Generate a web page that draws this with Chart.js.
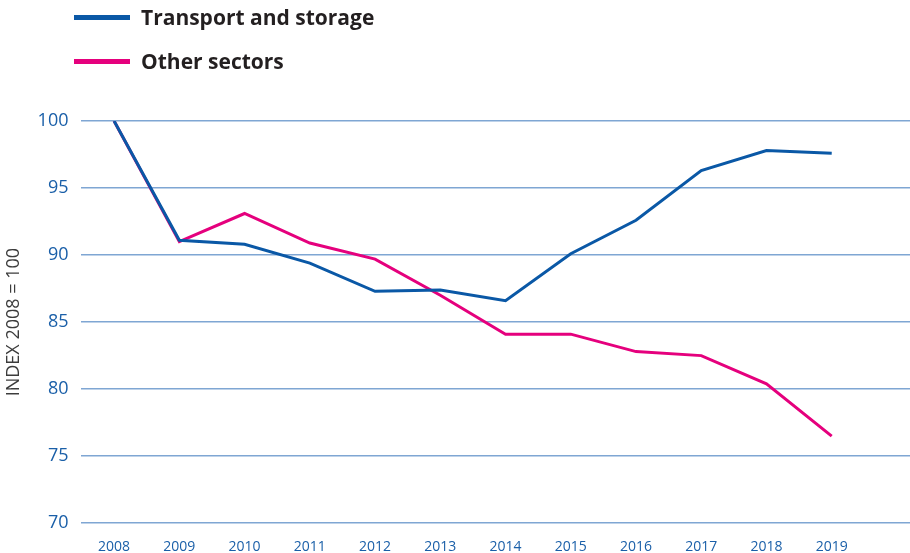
<!DOCTYPE html>
<html>
<head>
<meta charset="utf-8">
<script src="https://cdn.jsdelivr.net/npm/chart.js@4/dist/chart.umd.min.js"></script>
<style>
    html, body { margin: 0; padding: 0; background: #fff; }
    #wrap { position: relative; width: 910px; height: 553px; }
    #legend { position: absolute; left: 74px; top: 0; font-family: "Open Sans", sans-serif; font-weight: 700; font-size: 21px; color: #231f20; }
    .item { position: absolute; left: 0; white-space: nowrap; display: flex; align-items: center; }
    .swatch { display: inline-block; width: 56px; height: 5px; margin-right: 11px; }
</style>
</head>
<body>
<div id="wrap">
    <canvas id="chart" width="910" height="553"></canvas>
    <div id="legend"></div>
</div>
<script>
const years = [2008, 2009, 2010, 2011, 2012, 2013, 2014, 2015, 2016, 2017, 2018, 2019];
const transport = [100, 91.1, 90.8, 89.4, 87.3, 87.4, 86.6, 90.1, 92.6, 96.3, 97.8, 97.6];
const otherSectors = [100, 91.0, 93.1, 90.9, 89.7, 87.0, 84.1, 84.1, 82.8, 82.5, 80.4, 76.5];
const yTicks = [70, 75, 80, 85, 90, 95, 100];

const seriesNames = ['Transport and storage', 'Other sectors'];
const seriesColors = ['#0a58a6', '#e5007d'];

const legend = document.getElementById('legend');
seriesNames.forEach((name, i) => {
    const item = document.createElement('div');
    item.className = 'item';
    item.style.top = (3 + i * 44) + 'px';
    item.innerHTML = `<span class="swatch" style="background:${seriesColors[i]}"></span>${name}`;
    legend.appendChild(item);
});

const ctx = document.getElementById('chart').getContext('2d');
new Chart(ctx, {
    type: 'line',
    data: {
        datasets: [
            {
                label: seriesNames[0],
                data: years.map((y, i) => ({ x: y, y: transport[i] })),
                borderColor: seriesColors[0],
                borderWidth: 3,
                pointRadius: 0,
                tension: 0
            },
            {
                label: seriesNames[1],
                data: years.map((y, i) => ({ x: y, y: otherSectors[i] })),
                borderColor: seriesColors[1],
                borderWidth: 3,
                pointRadius: 0,
                tension: 0
            }
        ]
    },
    options: {
        responsive: false,
        animation: false,
        layout: { padding: { top: 121, right: 0, bottom: -17, left: 1 } },
        plugins: { legend: { display: false }, tooltip: { enabled: false } },
        scales: {
            x: {
                type: 'linear',
                min: 2007.5,
                max: 2020.2,
                afterBuildTicks: axis => { axis.ticks = years.map(v => ({ value: v })); },
                grid: { display: false, drawTicks: false },
                border: { display: false },
                ticks: {
                    color: '#1a5fa8',
                    font: { family: 'Open Sans', size: 14 },
                    padding: 15,
                    maxRotation: 0,
                    callback: v => String(v)
                }
            },
            y: {
                min: 70,
                max: 100,
                afterBuildTicks: axis => { axis.ticks = yTicks.map(v => ({ value: v })); },
                grid: { color: '#7fa6d3', lineWidth: 1.5, drawTicks: false },
                border: { display: false },
                title: {
                    display: true,
                    text: 'INDEX 2008 = 100',
                    color: '#3c3c3c',
                    font: { family: 'Open Sans', size: 18 },
                    padding: { top: 2, bottom: 0 }
                },
                ticks: {
                    color: '#1a5fa8',
                    font: { family: 'Open Sans', size: 18 },
                    padding: 13
                }
            }
        }
    }
});
</script>
</body>
</html>
